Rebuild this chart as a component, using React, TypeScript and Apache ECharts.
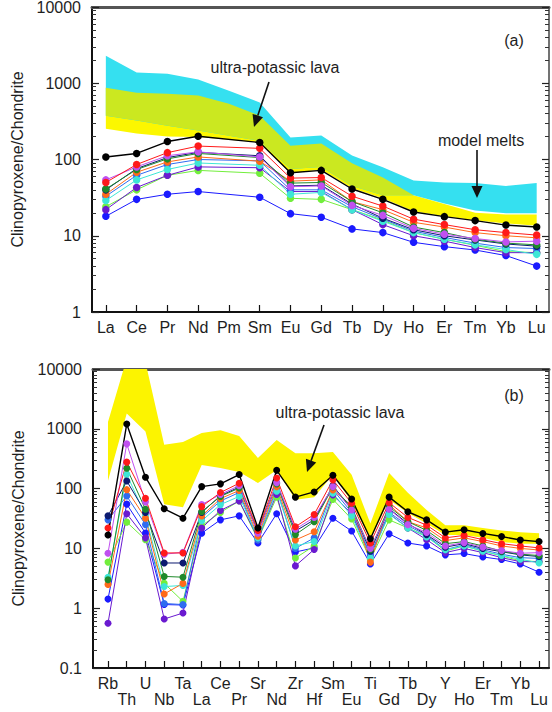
import { useEffect, useRef } from "react";
import * as echarts from "echarts";

// ---------- categories ----------
const reeA = ["La", "Ce", "Pr", "Nd", "Pm", "Sm", "Eu", "Gd", "Tb", "Dy", "Ho", "Er", "Tm", "Yb", "Lu"];
const elemB = ["Rb", "Th", "U", "Nb", "Ta", "La", "Ce", "Pr", "Sr", "Nd", "Zr", "Hf", "Sm", "Eu", "Ti", "Gd", "Tb", "Dy", "Y", "Ho", "Er", "Tm", "Yb", "Lu"];

// ---------- clinopyroxene samples (values in elemB order) ----------
const sBlack = [16.7, 1200, 155, 46, 32, 108, 120, 172, 22, 202, 72, 88, 167, 67, 14.5, 72, 41, 30, 18.7, 20.5, 17.8, 15.8, 13.8, 13];
const sRed = [22, 277, 69, 8.4, 8.4, 50, 86, 123, 20, 150, 23, 37, 140, 57, 12.3, 58, 33, 24.5, 15, 16.5, 14, 12, 11, 10.2];
const sViolet = [8.3, 560, 60, 8.0, 8.6, 54, 80, 112, 18, 126, 21, 33, 108, 44, 10, 45, 25, 18.5, 11, 12.5, 10.5, 9.2, 8.3, 8.5];
const sDkGreen = [3.0, 219, 45, 3.4, 3.3, 41, 74, 102, 19, 120, 17, 28, 106, 49, 9.5, 50, 28, 20, 12, 13, 11, 9, 8, 7.6];
const sNavy = [35, 134, 40, 5.7, 5.7, 40, 76, 106, 18.5, 124, 19.5, 30, 112, 45, 9, 46, 26, 17, 10.5, 12, 10, 8.8, 7.8, 7.3];
const sOrange = [2.5, 96, 32, 1.73, 2.6, 35, 68, 93, 16, 108, 13.8, 19, 95, 52, 5.9, 54, 28, 22, 13.5, 15, 13, 11, 10, 9.4];
const sCyan = [3.3, 174, 35, 2.3, 2.4, 29, 54, 74, 15, 90, 11, 13, 84, 35, 7, 37, 22, 15.5, 9.5, 11, 9, 7.6, 6.6, 5.7];
const sMdBlue = [30, 75, 25, 1.2, 1.15, 33, 62, 86, 14, 100, 10, 15, 96, 40, 8.1, 40, 24, 16.5, 9.5, 11.5, 9.5, 8, 7, 6.8];
const sPurple = [0.56, 38, 15, 0.66, 0.83, 22, 43, 62, 15, 80, 5.1, 9.6, 78, 38, 7.5, 38, 22, 14, 8.5, 10, 8.5, 7, 6, 6];
const sLtGreen = [5.9, 27.5, 14, 2.6, 1.3, 24, 40, 62, 14, 72, 6.9, 11, 66, 31, 6.5, 30, 22, 16, 9, 11, 9, 7.5, 6.2, 6];
const sBlue = [1.42, 55, 18, 1.15, 1.13, 18, 30, 35, 12.3, 38, 8.7, 10.2, 32, 19.5, 5.5, 17.5, 12.3, 11, 7.8, 8.2, 7.2, 6.5, 5.5, 4.0];

const samples = [sBlue, sLtGreen, sPurple, sMdBlue, sCyan, sOrange, sNavy, sDkGreen, sViolet, sRed, sBlack];
const sampleColors = ["#1a1aff", "#72ee3c", "#6a1ad0", "#2f6cf0", "#3ee6d6", "#ff6a1a", "#0c1a70", "#1f8a2a", "#c050f0", "#ff1a1a", "#000000"];

// ---------- bands, panel (a) (reeA order, incl. Pm) ----------
const meltsMaxA = [2290, 1380, 1330, 1120, 800, 560, 194, 206, 113, 79, 53, 50, 49, 45, 49];
const meltsMinA = [376, 324, 277, 240, 205, 175, 75, 80, 45, 34, 34, 26.5, 21.5, 19.7, 19.7];
const lavaMaxA = [870, 750, 730, 690, 540, 376, 152, 162, 89, 58, 34, 26, 20, 19, 19];
const lavaMinA = [254, 219, 200, 198, 182, 168, 66, 74, 42, 31, 21, 18, 16, 14.5, 13.5];

// ---------- band, panel (b) (elemB order) ----------
const lavaMaxB = [1300, 15000, 13000, 540, 600, 850, 950, 760, 325, 650, 390, 390, 410, 170, 26, 183, 85, 44, 24.5, 24.5, 22, 20, 18.7, 18];
const lavaMinB = [135, 1800, 900, 55, 49, 247, 220, 190, 124, 205, 65, 72, 170, 60, 14, 65, 39, 26, 16.7, 16.7, 15, 12.8, 12, 12];

const FONT = "Liberation Sans, Arial, sans-serif";
const TXT = "#1e1e1e";

export default function App() {
  const ref = useRef<HTMLDivElement>(null);

  useEffect(() => {
    if (!ref.current) return;
    const chart = echarts.init(ref.current, null, { renderer: "svg" });

    const overlapMax = meltsMaxA.map((v, i) => Math.min(v, lavaMaxA[i]));
    const overlapMin = meltsMinA.map((v, i) => Math.max(v, lavaMinA[i]));
    const overlapTop = overlapMax.map((v, i) => Math.max(v, overlapMin[i]));

    const band = (xi: number, yi: number, upper: number[], lower: number[], color: string) => ({
      type: "custom",
      xAxisIndex: xi,
      yAxisIndex: yi,
      silent: true,
      z: 1,
      data: [[0, 1]],
      renderItem: (params: any, api: any) => {
        const top = upper.map((v, i) => api.coord([i, v]));
        const bot = lower.map((v, i) => api.coord([i, v])).reverse();
        const cs = params.coordSys;
        return {
          type: "polygon",
          shape: { points: top.concat(bot) },
          style: { fill: color, stroke: null },
          clipPath: { type: "rect", shape: { x: cs.x, y: cs.y, width: cs.width, height: cs.height } },
        };
      },
    });

    const dataA = (vals: number[]) =>
      reeA
        .map((el, i) => {
          const j = elemB.indexOf(el);
          return j < 0 ? null : [i, vals[j]];
        })
        .filter((d) => d !== null);
    const dataB = (vals: number[]) => elemB.map((_, i) => [i, vals[i]]);

    const lineSeries = (xi: number, yi: number, data: any[], color: string, size: number) => ({
      type: "line",
      xAxisIndex: xi,
      yAxisIndex: yi,
      data,
      symbol: "circle",
      symbolSize: size,
      showSymbol: true,
      lineStyle: { width: color === "#000000" ? 1.4 : 1, color },
      itemStyle: { color, borderWidth: 0 },
      z: 3,
      silent: true,
    });

    const idxA = reeA.map((_, i) => i);
    const idxB = elemB.map((_, i) => i);
    const idxBEven = idxB.filter((i) => i % 2 === 0);
    const idxBOdd = idxB.filter((i) => i % 2 === 1);

    const xBottom = (
      gi: number,
      min: number,
      max: number,
      names: string[],
      tickIdx: number[],
      labelIdx: number[],
      margin: number,
      showLine: boolean
    ) => ({
      type: "value",
      gridIndex: gi,
      position: "bottom",
      min,
      max,
      axisLine: { show: showLine, onZero: false, lineStyle: { color: "#111", width: 2 } },
      axisTick: { show: showLine, inside: true, length: 7, customValues: tickIdx, lineStyle: { color: "#111", width: 1.2 } },
      axisLabel: {
        show: true,
        customValues: labelIdx,
        showMinLabel: true,
        showMaxLabel: true,
        hideOverlap: false,
        margin,
        fontFamily: FONT,
        fontSize: 16,
        color: TXT,
        formatter: (v: number) => names[Math.round(v)] ?? "",
      },
      splitLine: { show: false },
    });

    const xTop = (gi: number, min: number, max: number) => ({
      type: "value",
      gridIndex: gi,
      position: "top",
      min,
      max,
      axisLine: { show: true, onZero: false, lineStyle: { color: "#555", width: 3 } },
      axisTick: { show: false },
      axisLabel: { show: false },
      splitLine: { show: false },
    });

    const yAxis = (gi: number, min: number, max: number, side: "left" | "right") => ({
      type: "log",
      logBase: 10,
      gridIndex: gi,
      position: side,
      min,
      max,
      name: side === "left" ? "Clinopyroxene/Chondrite" : "",
      nameLocation: "middle",
      nameRotate: 90,
      nameGap: 64,
      nameTextStyle: { fontFamily: FONT, fontSize: 16, color: TXT },
      axisLine: { show: true, onZero: false, lineStyle: { color: side === "left" ? "#111" : "#444", width: side === "left" ? 2 : 1.5 } },
      axisTick: { show: true, inside: true, length: 7, lineStyle: { color: "#222", width: 1.2 } },
      minorTick: { show: true, splitNumber: 9, length: 4, lineStyle: { color: "#333", width: 1 } },
      axisLabel: {
        show: side === "left",
        showMinLabel: true,
        showMaxLabel: true,
        margin: 11,
        fontFamily: FONT,
        fontSize: 16,
        lineHeight: 14,
        color: TXT,
        formatter: (v: number) => (v < 1 ? v.toFixed(1) : String(Math.round(v))),
      },
      splitLine: { show: false },
      minorSplitLine: { show: false },
    });

    const arrow = (x1: number, y1: number, x2: number, y2: number) => {
      const a = Math.atan2(y2 - y1, x2 - x1);
      const L = 12;
      const W = 5.5;
      const bx = x2 - L * Math.cos(a);
      const by = y2 - L * Math.sin(a);
      return [
        { type: "line", shape: { x1, y1, x2: bx, y2: by }, style: { stroke: "#111", lineWidth: 1.6 }, z: 10 },
        {
          type: "polygon",
          shape: {
            points: [
              [x2, y2],
              [bx + W * Math.sin(a), by - W * Math.cos(a)],
              [bx - W * Math.sin(a), by + W * Math.cos(a)],
            ],
          },
          style: { fill: "#111" },
          z: 10,
        },
      ];
    };

    const label = (x: number, y: number, text: string) => ({
      type: "text",
      x,
      y,
      z: 10,
      style: { text, fontFamily: FONT, fontSize: 16, fill: TXT, textAlign: "center", textVerticalAlign: "middle" },
    });

    const minA = -0.45, maxA = 14.4;
    const minB = -0.8, maxB = 23.53;

    const option: any = {
      animation: false,
      backgroundColor: "#ffffff",
      grid: [
        { left: 92, top: 7, width: 457, height: 305, outerBoundsMode: "none" },
        { left: 93, top: 369, width: 456, height: 299, outerBoundsMode: "none" },
      ],
      xAxis: [
        xBottom(0, minA, maxA, reeA, idxA, idxA, 7, true),
        xTop(0, minA, maxA),
        xBottom(1, minB, maxB, elemB, idxB, idxBEven, 7, true),
        xTop(1, minB, maxB),
        xBottom(1, minB, maxB, elemB, idxB, idxBOdd, 23, false),
      ],
      yAxis: [yAxis(0, 1, 10000, "left"), yAxis(0, 1, 10000, "right"), yAxis(1, 0.1, 10000, "left"), yAxis(1, 0.1, 10000, "right")],
      series: [
        band(0, 0, lavaMaxA, lavaMinA, "#fcf700"),
        band(0, 0, meltsMaxA, meltsMinA, "#35e0f0"),
        band(0, 0, overlapTop, overlapMin, "#cbe820"),
        band(2, 2, lavaMaxB, lavaMinB, "#fcf400"),
        ...samples.map((s, k) => lineSeries(0, 0, dataA(s), sampleColors[k], 7.5)),
        ...samples.map((s, k) => lineSeries(2, 2, dataB(s), sampleColors[k], 7)),
      ],
      graphic: [
        label(275, 67, "ultra-potassic lava"),
        label(514, 40, "(a)"),
        label(481, 140, "model melts"),
        ...arrow(269, 82, 254, 127),
        ...arrow(477, 150, 477, 198),
        label(340, 412, "ultra-potassic lava"),
        label(514, 395, "(b)"),
        ...arrow(324, 425, 307, 472),
      ],
    };

    chart.setOption(option);
    return () => chart.dispose();
  }, []);

  return <div ref={ref} style={{ position: "absolute", left: 0, top: 0, width: 552, height: 712, background: "#fff" }} />;
}
